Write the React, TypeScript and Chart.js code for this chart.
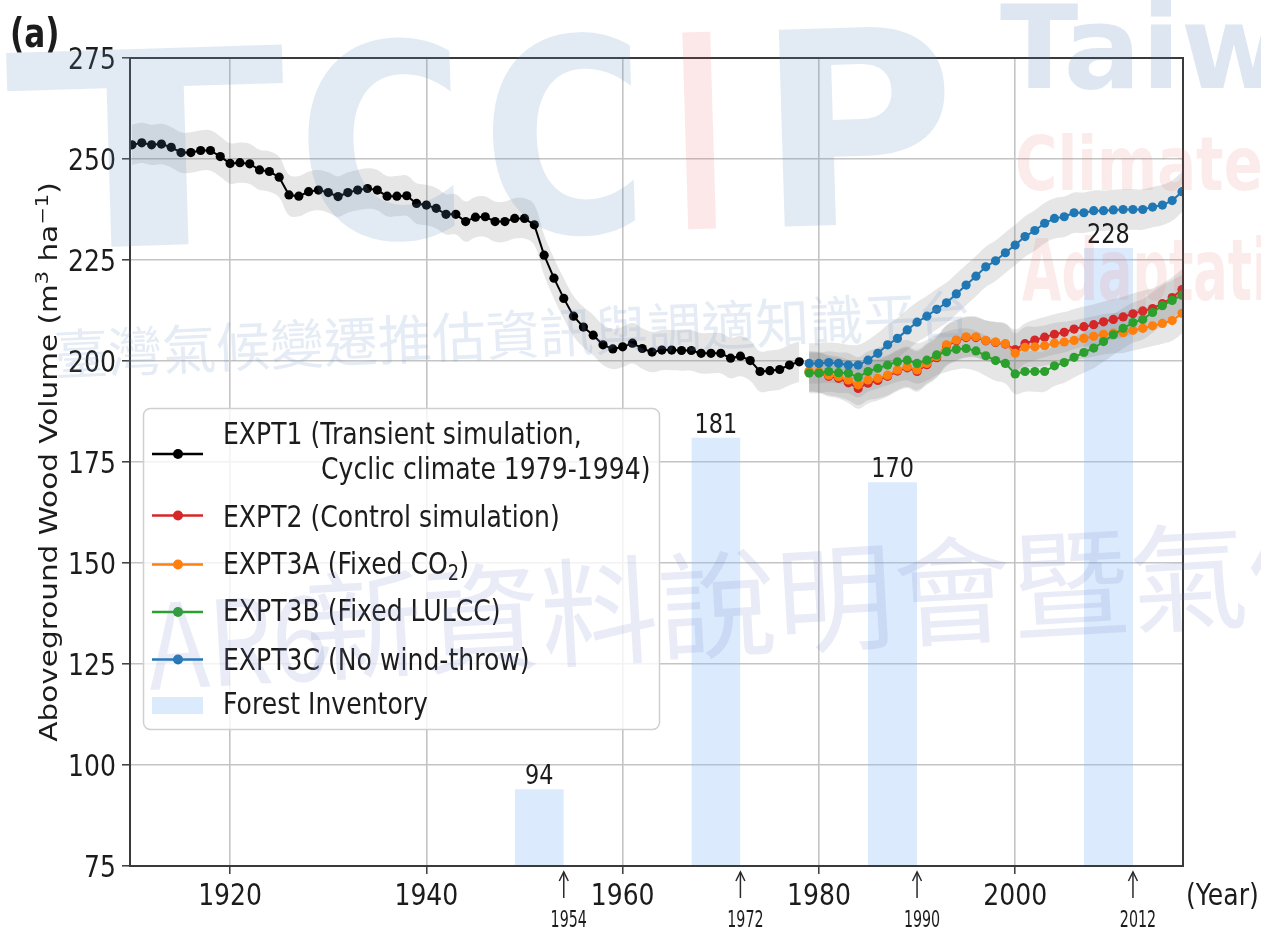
import React, { useEffect, useRef } from 'react';
import { Chart, registerables } from 'chart.js';

Chart.register(...registerables);

// ---------------- data ----------------
const EXPT1_START_YEAR = 1910;
const EXPT1_VALUES = [
  253.5, 254.0, 253.5, 253.7, 252.9, 251.6, 251.6, 252.1, 252.1, 250.6,
  248.9, 249.1, 248.8, 247.3, 246.9, 245.5, 241.1, 240.8, 241.9, 242.3,
  241.7, 240.7, 241.7, 242.3, 242.7, 242.3, 240.8, 240.8, 240.9, 239.0,
  238.6, 237.8, 236.3, 236.3, 234.5, 235.6, 235.7, 234.5, 234.5, 235.3,
  235.3, 233.7, 226.2, 220.5, 215.5, 211.1, 208.4, 206.4, 204.0, 203.0,
  203.5, 204.4, 203.1, 202.2, 202.7, 202.7, 202.6, 202.6, 201.9, 201.9,
  201.9, 200.7, 201.2, 200.1, 197.4, 197.6, 197.9, 199.0, 199.8,
];

const EXPT_START_YEAR = 1979;
const EXPT2_VALUES = [
  197.3, 197.1, 196.2, 195.7, 194.6, 193.2, 194.5, 195.2, 196.2, 197.5,
  198.3, 197.4, 199.1, 200.8, 203.7, 205.0, 205.8, 205.8, 205.0, 204.6,
  204.2, 202.8, 204.3, 205.2, 205.9, 206.6, 207.1, 207.9, 208.5, 209.0,
  209.7, 210.3, 210.9, 211.7, 212.4, 213.0, 214.2, 215.7, 217.7,
];
const EXPT3A_VALUES = [
  197.5, 197.3, 196.5, 196.1, 195.3, 194.1, 195.3, 195.7, 196.5, 197.8,
  198.6, 197.8, 199.4, 201.1, 204.0, 205.2, 206.0, 206.0, 205.1, 204.7,
  204.3, 201.9, 203.4, 203.5, 203.8, 204.4, 204.7, 205.1, 205.6, 206.1,
  206.6, 206.9, 207.0, 207.6, 208.1, 208.7, 209.3, 210.0, 211.8,
];
const EXPT3B_VALUES = [
  197.0, 197.0, 197.4, 197.1, 197.0, 196.0, 197.4, 198.2, 199.0, 199.8,
  200.2, 199.4, 200.2, 201.5, 202.3, 202.9, 203.1, 202.5, 201.3, 200.1,
  199.4, 196.8, 197.4, 197.4, 197.4, 198.8, 199.6, 200.9, 202.1, 203.2,
  204.8, 206.5, 208.1, 209.5, 210.3, 212.0, 213.7, 215.0, 216.3,
];
const EXPT3C_VALUES = [
  199.4, 199.4, 199.6, 199.4, 199.0, 199.0, 200.2, 201.9, 204.0, 205.6,
  207.7, 209.6, 211.1, 212.8, 214.4, 216.6, 218.8, 221.0, 223.3, 224.8,
  226.8, 228.7, 230.8, 232.3, 234.1, 235.3, 235.7, 236.7, 236.7, 237.2,
  237.2, 237.4, 237.5, 237.5, 237.5, 238.1, 238.6, 239.7, 241.9,
];

const INVENTORY_YEARS = [1954, 1972, 1990, 2012];
const INVENTORY_VALUES = [94, 181, 170, 228];
const INVENTORY_PERIOD_YEARS = 5;

const X_TICKS = [1920, 1940, 1960, 1980, 2000];
const Y_TICKS = [75, 100, 125, 150, 175, 200, 225, 250, 275];
const X_MIN = 1909.8;
const X_MAX = 2017.1;
const Y_MIN = 75;
const Y_MAX = 275;
const BAND_HALF_WIDTH = 5;

const LEGEND_EXPT1 = ['EXPT1 (Transient simulation,', 'Cyclic climate 1979-1994)'];
const LEGEND_EXPT2 = 'EXPT2 (Control simulation)';
const LEGEND_EXPT3A = ['EXPT3A (Fixed CO', '2', ')'];
const LEGEND_EXPT3B = 'EXPT3B (Fixed LULCC)';
const LEGEND_EXPT3C = 'EXPT3C (No wind-throw)';
const LEGEND_INVENTORY = 'Forest Inventory';

// ---------------- style ----------------
const FONT_FAMILY = '"DejaVu Sans", "Liberation Sans", sans-serif';
const CJK_FAMILY = '"Noto Sans CJK TC", "Noto Sans CJK SC", sans-serif';
const SX = 0.81;
const INK = '#1c1c1c';
const C_BLACK = '#000000';
const C_RED = '#d62728';
const C_ORANGE = '#ff7f0e';
const C_GREEN = '#2ca02c';
const C_BLUE = '#1f77b4';
const BAND_COLOR = 'rgba(128,128,128,0.2)';
const BAR_COLOR = 'rgba(135,185,245,0.3)';
const GRID_COLOR = '#c4c4c4';
const FRAME_COLOR = '#3a3a3a';

type Seg = { t: string; size?: number; dy?: number; bold?: boolean };

function drawRich(
  ctx: CanvasRenderingContext2D,
  segs: Seg[],
  x: number,
  y: number,
  baseSize: number,
  align: 'left' | 'center' | 'right' = 'left',
  sx: number = SX,
  color: string = INK,
  family: string = FONT_FAMILY,
) {
  ctx.save();
  ctx.fillStyle = color;
  ctx.textBaseline = 'alphabetic';
  ctx.textAlign = 'left';
  const fontOf = (s: Seg) => `${s.bold ? 'bold ' : ''}${s.size ?? baseSize}px ${family}`;
  const widths = segs.map((s) => {
    ctx.font = fontOf(s);
    return ctx.measureText(s.t).width;
  });
  const total = widths.reduce((a, b) => a + b, 0);
  ctx.translate(x, y);
  ctx.scale(sx, 1);
  let cx = align === 'left' ? 0 : align === 'center' ? -total / 2 : -total;
  segs.forEach((s, i) => {
    ctx.font = fontOf(s);
    ctx.fillText(s.t, cx, s.dy ?? 0);
    cx += widths[i];
  });
  ctx.restore();
}

function legendSample(ctx: CanvasRenderingContext2D, y: number, color: string) {
  ctx.save();
  ctx.strokeStyle = color;
  ctx.lineWidth = 2.5;
  ctx.beginPath();
  ctx.moveTo(152, y);
  ctx.lineTo(203, y);
  ctx.stroke();
  ctx.fillStyle = color;
  ctx.beginPath();
  ctx.arc(178, y, 5, 0, Math.PI * 2);
  ctx.fill();
  ctx.restore();
}

function drawLegend(ctx: CanvasRenderingContext2D) {
  ctx.save();
  ctx.beginPath();
  (ctx as any).roundRect(143.5, 408.5, 516, 321, 7);
  ctx.fillStyle = 'rgba(255,255,255,0.8)';
  ctx.fill();
  ctx.strokeStyle = '#d0d0d0';
  ctx.lineWidth = 1.5;
  ctx.stroke();
  ctx.restore();

  const fs = 31;
  legendSample(ctx, 454, C_BLACK);
  drawRich(ctx, [{ t: LEGEND_EXPT1[0] }], 223, 444, fs);
  drawRich(ctx, [{ t: LEGEND_EXPT1[1] }], 321, 479, fs);
  legendSample(ctx, 515.5, C_RED);
  drawRich(ctx, [{ t: LEGEND_EXPT2 }], 223, 527, fs);
  legendSample(ctx, 564.5, C_ORANGE);
  drawRich(
    ctx,
    [{ t: LEGEND_EXPT3A[0] }, { t: LEGEND_EXPT3A[1], size: 22, dy: 6 }, { t: LEGEND_EXPT3A[2] }],
    223,
    574,
    fs,
  );
  legendSample(ctx, 612, C_GREEN);
  drawRich(ctx, [{ t: LEGEND_EXPT3B }], 223, 621, fs);
  legendSample(ctx, 659.5, C_BLUE);
  drawRich(ctx, [{ t: LEGEND_EXPT3C }], 223, 670, fs);
  ctx.save();
  ctx.fillStyle = BAR_COLOR;
  ctx.fillRect(152, 697, 51, 17);
  ctx.restore();
  drawRich(ctx, [{ t: LEGEND_INVENTORY }], 223, 714, fs);
}

function drawWatermarks(ctx: CanvasRenderingContext2D) {
  const WM_BLUE = 'rgba(95,145,195,0.18)';
  const WM_RED = 'rgba(235,80,80,0.13)';
  // TCCIP logo (as text)
  ctx.save();
  ctx.translate(0, 250);
  ctx.rotate(-0.03);
  const logo = [
    { t: 'T', x: 10, w: 280, c: WM_BLUE },
    { t: 'C', x: 300, w: 170, c: WM_BLUE },
    { t: 'C', x: 485, w: 165, c: WM_BLUE },
    { t: 'I', x: 675, w: 55, c: WM_RED },
    { t: 'P', x: 760, w: 200, c: WM_BLUE },
  ];
  ctx.font = `bold 270px ${FONT_FAMILY}`;
  ctx.textBaseline = 'alphabetic';
  logo.forEach((l) => {
    const m = ctx.measureText(l.t).width;
    ctx.save();
    ctx.translate(l.x, 0);
    ctx.scale(l.w / m, 1);
    ctx.fillStyle = l.c;
    ctx.fillText(l.t, 0, 0);
    ctx.restore();
  });
  ctx.restore();

  drawRich(ctx, [{ t: 'Taiwan', bold: true }], 1000, 88, 115, 'left', 1.0, 'rgba(70,120,180,0.18)');
  drawRich(ctx, [{ t: 'Climate', bold: true }], 1015, 190, 75, 'left', 0.77, 'rgba(230,90,90,0.12)');
  drawRich(ctx, [{ t: 'Adaptation', bold: true }], 1022, 300, 85, 'left', 0.6, 'rgba(230,90,90,0.12)');

  // Chinese watermark lines
  ctx.save();
  ctx.translate(55, 375);
  ctx.rotate(-0.044);
  drawRich(ctx, [{ t: '臺灣氣候變遷推估資訊與調適知識平台' }], 0, 0, 54, 'left', 1.0, 'rgba(110,150,200,0.18)', CJK_FAMILY);
  ctx.restore();

  ctx.save();
  ctx.translate(150, 690);
  ctx.rotate(-0.058);
  drawRich(ctx, [{ t: 'AR6' }], 0, 0, 118, 'left', 0.85, 'rgba(120,130,200,0.16)', CJK_FAMILY);
  drawRich(ctx, [{ t: '新資料說明會暨氣候' }], 158, -8, 118, 'left', 1.0, 'rgba(120,130,200,0.16)', CJK_FAMILY);
  ctx.restore();
}

const overlayPlugin = {
  id: 'overlay',
  afterDatasetsDraw(chart: any) {
    const { ctx, chartArea: a } = chart;
    ctx.save();
    ctx.strokeStyle = FRAME_COLOR;
    ctx.lineWidth = 2;
    ctx.strokeRect(a.left, a.top, a.right - a.left, a.bottom - a.top);
    ctx.restore();
  },
  afterDraw(chart: any) {
    const ctx: CanvasRenderingContext2D = chart.ctx;
    const xs = chart.scales.x;
    const ys = chart.scales.y;
    const tickFs = 31;

    // y tick labels
    ys.ticks.forEach((t: any) => {
      drawRich(ctx, [{ t: String(t.value) }], 116, ys.getPixelForValue(t.value) + 0.365 * tickFs, tickFs, 'right');
    });
    // x tick labels
    xs.ticks.forEach((t: any) => {
      drawRich(ctx, [{ t: String(t.value) }], xs.getPixelForValue(t.value), 905, tickFs, 'center');
    });
    drawRich(ctx, [{ t: '(Year)' }], 1186, 905, tickFs, 'left');

    // inventory arrows and labels
    INVENTORY_YEARS.forEach((yr, i) => {
      const px = xs.getPixelForValue(yr);
      ctx.save();
      ctx.strokeStyle = '#2a2a2a';
      ctx.lineWidth = 1.5;
      ctx.beginPath();
      ctx.moveTo(px, 898);
      ctx.lineTo(px, 872);
      ctx.stroke();
      ctx.beginPath();
      ctx.moveTo(px - 4.5, 881);
      ctx.lineTo(px, 872);
      ctx.lineTo(px + 4.5, 881);
      ctx.stroke();
      ctx.restore();
      drawRich(ctx, [{ t: String(yr) }], px + 5, 927, 23, 'center', 0.62);

      const cx = xs.getPixelForValue(yr - INVENTORY_PERIOD_YEARS / 2);
      const top = ys.getPixelForValue(INVENTORY_VALUES[i]);
      drawRich(ctx, [{ t: String(INVENTORY_VALUES[i]) }], cx, top - 5, 26, 'center', 0.86);
    });

    // legend
    drawLegend(ctx);

    // y axis title
    ctx.save();
    ctx.translate(57, 462);
    ctx.rotate(-Math.PI / 2);
    ctx.scale(1, SX);
    drawRich(
      ctx,
      [
        { t: 'Aboveground Wood Volume (m' },
        { t: '3', size: 21, dy: -11 },
        { t: ' ha' },
        { t: '\u22121', size: 21, dy: -11 },
        { t: ')' },
      ],
      0,
      0,
      29.5,
      'center',
      1,
    );
    ctx.restore();

    // panel label
    drawRich(ctx, [{ t: '(a)', bold: true }], 10, 47, 40, 'left', 0.78);

    drawWatermarks(ctx);
  },
};

export default function App() {
  const ref = useRef<HTMLCanvasElement>(null);

  useEffect(() => {
    document.body.style.margin = '0';
    const canvas = ref.current;
    if (!canvas) return;

    const toXY = (start: number, arr: number[], offset = 0) =>
      arr.map((v, i) => ({ x: start + i, y: v + offset }));

    const series = [
      { start: EXPT1_START_YEAR, values: EXPT1_VALUES, color: C_BLACK, order: 1 },
      { start: EXPT_START_YEAR, values: EXPT2_VALUES, color: C_RED, order: 5 },
      { start: EXPT_START_YEAR, values: EXPT3A_VALUES, color: C_ORANGE, order: 4 },
      { start: EXPT_START_YEAR, values: EXPT3B_VALUES, color: C_GREEN, order: 3 },
      { start: EXPT_START_YEAR, values: EXPT3C_VALUES, color: C_BLUE, order: 2 },
    ];

    const datasets: any[] = [];
    INVENTORY_YEARS.forEach((yr, i) => {
      datasets.push({
        label: 'Forest Inventory',
        data: [
          { x: yr - INVENTORY_PERIOD_YEARS, y: INVENTORY_VALUES[i] },
          { x: yr, y: INVENTORY_VALUES[i] },
        ],
        borderWidth: 0,
        borderColor: 'rgba(0,0,0,0)',
        pointRadius: 0,
        fill: 'origin',
        backgroundColor: BAR_COLOR,
        order: 30,
      });
    });
    series.forEach((s) => {
      datasets.push({
        data: toXY(s.start, s.values, BAND_HALF_WIDTH),
        borderWidth: 0,
        borderColor: 'rgba(0,0,0,0)',
        pointRadius: 0,
        fill: false,
        tension: 0.4,
        order: 20,
      });
      datasets.push({
        data: toXY(s.start, s.values, -BAND_HALF_WIDTH),
        borderWidth: 0,
        borderColor: 'rgba(0,0,0,0)',
        pointRadius: 0,
        fill: '-1',
        backgroundColor: BAND_COLOR,
        tension: 0.4,
        order: 20,
      });
    });
    series.forEach((s) => {
      datasets.push({
        data: toXY(s.start, s.values),
        borderColor: s.color,
        backgroundColor: s.color,
        pointBackgroundColor: s.color,
        pointBorderColor: s.color,
        pointBorderWidth: 0,
        pointRadius: 4.6,
        borderWidth: 2,
        fill: false,
        tension: 0,
        order: s.order,
      });
    });

    const chart = new Chart(canvas, {
      type: 'line',
      data: { datasets },
      options: {
        responsive: false,
        animation: false,
        devicePixelRatio: 1,
        layout: { padding: { top: 58, right: 78, left: 0, bottom: 0 } },
        plugins: { legend: { display: false }, tooltip: { enabled: false } },
        scales: {
          x: {
            type: 'linear',
            min: X_MIN,
            max: X_MAX,
            afterBuildTicks: (scale: any) => {
              scale.ticks = X_TICKS.map((v) => ({ value: v }));
            },
            afterFit: (scale: any) => {
              scale.height = 64;
            },
            ticks: { display: false },
            grid: {
              color: GRID_COLOR,
              lineWidth: 1.6,
              drawTicks: true,
              tickLength: 8,
              tickColor: FRAME_COLOR,
              tickWidth: 1.5,
            },
            border: { display: false },
          },
          y: {
            type: 'linear',
            min: Y_MIN,
            max: Y_MAX,
            afterBuildTicks: (scale: any) => {
              scale.ticks = Y_TICKS.map((v) => ({ value: v }));
            },
            afterFit: (scale: any) => {
              scale.width = 130;
            },
            ticks: { display: false },
            grid: {
              color: GRID_COLOR,
              lineWidth: 1.6,
              drawTicks: true,
              tickLength: 8,
              tickColor: FRAME_COLOR,
              tickWidth: 1.5,
            },
            border: { display: false },
          },
        },
      } as any,
      plugins: [overlayPlugin],
    });

    return () => {
      chart.destroy();
    };
  }, []);

  return (
    <div style={{ position: 'fixed', left: 0, top: 0, width: 1261, height: 930, background: '#ffffff' }}>
      <canvas ref={ref} width={1261} height={930} style={{ display: 'block', width: 1261, height: 930 }} />
    </div>
  );
}
